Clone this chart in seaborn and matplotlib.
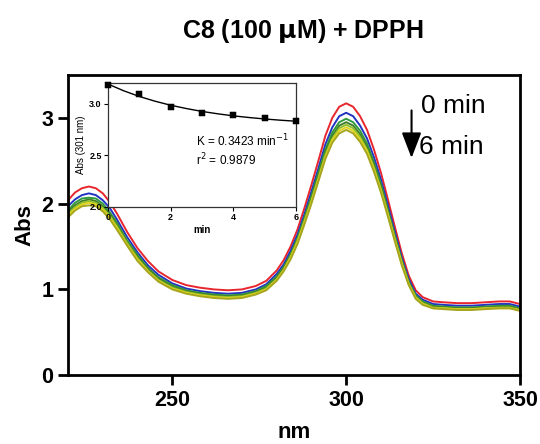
import numpy as np
import pandas as pd
import seaborn as sns
import matplotlib.pyplot as plt

# wavelength grid (nm) and spectra, 0 -> 6 min
wavelength = [220, 222, 224, 226, 228, 230, 232, 234, 237, 240, 243, 246, 250, 254, 258,
              262, 266, 270, 274, 277, 280, 282, 284, 286, 288, 290, 292, 294, 296, 298,
              300, 302, 304, 306, 308, 310, 312, 314, 316, 318, 320, 322, 325, 328, 332,
              336, 340, 344, 347, 350]

abs_0min = [2.04, 2.13, 2.18, 2.20, 2.18, 2.12, 2.02, 1.89, 1.67, 1.48, 1.33, 1.21, 1.11, 1.05, 1.02,
            1.00, 0.99, 1.00, 1.04, 1.10, 1.22, 1.34, 1.50, 1.70, 1.95, 2.22, 2.50, 2.79, 3.00, 3.13,
            3.17, 3.13, 3.02, 2.86, 2.63, 2.36, 2.05, 1.73, 1.42, 1.16, 0.99, 0.91, 0.86, 0.85, 0.84,
            0.84, 0.85, 0.86, 0.86, 0.83]
abs_1min = [1.97, 2.05, 2.10, 2.12, 2.10, 2.04, 1.95, 1.82, 1.61, 1.43, 1.28, 1.17, 1.07, 1.01, 0.98,
            0.96, 0.95, 0.96, 1.00, 1.06, 1.18, 1.29, 1.45, 1.64, 1.88, 2.14, 2.41, 2.69, 2.89, 3.02,
            3.06, 3.02, 2.91, 2.76, 2.54, 2.28, 1.98, 1.67, 1.37, 1.12, 0.95, 0.88, 0.83, 0.82, 0.81,
            0.81, 0.82, 0.83, 0.83, 0.80]
abs_2min = [1.92, 2.01, 2.06, 2.07, 2.06, 2.00, 1.90, 1.78, 1.57, 1.40, 1.25, 1.14, 1.05, 0.99, 0.96,
            0.94, 0.93, 0.94, 0.98, 1.04, 1.15, 1.26, 1.41, 1.60, 1.84, 2.09, 2.36, 2.63, 2.83, 2.95,
            2.99, 2.95, 2.85, 2.70, 2.48, 2.23, 1.93, 1.63, 1.34, 1.09, 0.93, 0.86, 0.81, 0.80, 0.79,
            0.79, 0.80, 0.81, 0.81, 0.78]
abs_3min = [1.90, 1.98, 2.03, 2.05, 2.03, 1.97, 1.88, 1.76, 1.55, 1.38, 1.24, 1.13, 1.03, 0.98, 0.95,
            0.93, 0.92, 0.93, 0.97, 1.02, 1.14, 1.25, 1.40, 1.58, 1.82, 2.07, 2.33, 2.60, 2.79, 2.91,
            2.95, 2.91, 2.81, 2.66, 2.45, 2.20, 1.91, 1.61, 1.32, 1.08, 0.92, 0.85, 0.80, 0.79, 0.78,
            0.78, 0.79, 0.80, 0.80, 0.77]
abs_4min = [1.88, 1.96, 2.01, 2.03, 2.01, 1.95, 1.86, 1.74, 1.54, 1.36, 1.22, 1.11, 1.02, 0.97, 0.94,
            0.92, 0.91, 0.92, 0.96, 1.01, 1.12, 1.23, 1.38, 1.57, 1.80, 2.04, 2.30, 2.57, 2.76, 2.88,
            2.92, 2.88, 2.78, 2.63, 2.42, 2.17, 1.89, 1.59, 1.31, 1.07, 0.91, 0.84, 0.79, 0.78, 0.77,
            0.77, 0.78, 0.79, 0.79, 0.76]
abs_5min = [1.86, 1.94, 1.99, 2.01, 1.99, 1.93, 1.84, 1.72, 1.52, 1.35, 1.21, 1.10, 1.01, 0.96, 0.93,
            0.91, 0.90, 0.91, 0.95, 1.00, 1.11, 1.22, 1.37, 1.55, 1.78, 2.02, 2.28, 2.54, 2.74, 2.85,
            2.89, 2.85, 2.75, 2.61, 2.40, 2.15, 1.87, 1.58, 1.30, 1.06, 0.90, 0.83, 0.78, 0.78, 0.77,
            0.77, 0.78, 0.78, 0.78, 0.76]
abs_6min = [1.84, 1.92, 1.97, 1.98, 1.97, 1.91, 1.82, 1.70, 1.51, 1.33, 1.20, 1.09, 1.00, 0.95, 0.92,
            0.90, 0.89, 0.90, 0.94, 0.99, 1.10, 1.21, 1.35, 1.53, 1.76, 2.00, 2.26, 2.52, 2.71, 2.82,
            2.86, 2.82, 2.72, 2.58, 2.37, 2.13, 1.85, 1.56, 1.28, 1.05, 0.89, 0.82, 0.78, 0.77, 0.76,
            0.76, 0.77, 0.78, 0.78, 0.75]

spectra = [abs_0min, abs_1min, abs_2min, abs_3min, abs_4min, abs_5min, abs_6min]
time_labels = ['0 min', '1 min', '2 min', '3 min', '4 min', '5 min', '6 min']
line_colors = ['#e8262d', '#2233c4', '#2f9a3c', '#3f7d2a', '#8fbf2c', '#e2d41c', '#a5a51e']

# inset: absorbance at 301 nm vs time
inset_time = [0, 1, 2, 3, 4, 5, 6]
inset_abs = [3.18, 3.09, 2.97, 2.91, 2.89, 2.86, 2.83]
fit_time = [0, 0.5, 1, 1.5, 2, 2.5, 3, 3.5, 4, 4.5, 5, 5.5, 6]
fit_abs = [3.19, 3.125, 3.07, 3.024, 2.985, 2.953, 2.925, 2.902, 2.882, 2.866, 2.852, 2.84, 2.83]

sns.set_theme(style="ticks")
plt.rcParams['font.family'] = ['Liberation Sans', 'DejaVu Sans']
plt.rcParams['text.color'] = 'black'
plt.rcParams['axes.labelcolor'] = 'black'
plt.rcParams['xtick.color'] = 'black'
plt.rcParams['ytick.color'] = 'black'

df = pd.DataFrame({
    'nm': wavelength * len(spectra),
    'Abs': [v for s in spectra for v in s],
    'time': [t for t in time_labels for _ in wavelength],
})

fig = plt.figure(figsize=(5.4, 4.44), dpi=100)
ax = fig.add_axes([0.126, 0.155, 0.837, 0.676])
sns.lineplot(data=df, x='nm', y='Abs', hue='time', palette=line_colors,
             linewidth=1.4, legend=False, ax=ax, sort=False)

ax.set_xlim(220, 350)
ax.set_ylim(0, 3.5)
ax.set_xticks([250, 300, 350])
ax.set_yticks([0, 1, 2, 3])
for sp in ax.spines.values():
    sp.set_linewidth(2)
    sp.set_color('black')
ax.tick_params(width=2, length=7, labelsize=15.5)
for lab in ax.get_xticklabels() + ax.get_yticklabels():
    lab.set_fontweight('bold')
ax.set_xlabel('nm', fontsize=16, fontweight='bold', labelpad=8)
ax.set_ylabel('Abs', fontsize=16, fontweight='bold', labelpad=4)
fig.suptitle('C8 (100 $\\mathbf{\\mu}$M) + DPPH', x=0.56, y=0.962, fontsize=18, fontweight='bold')

# time arrow
ax.annotate('', xy=(318.8, 2.5), xytext=(318.8, 3.12),
            arrowprops=dict(arrowstyle='-|>,head_length=1.3,head_width=0.5',
                            color='black', lw=1.5))
ax.text(321.5, 3.14, '0 min', fontsize=19, va='center', ha='left')
ax.text(321.0, 2.66, '6 min', fontsize=19, va='center', ha='left')

# inset
ins = fig.add_axes([0.2, 0.534, 0.348, 0.279])
ins.set_facecolor('white')
sns.lineplot(x=fit_time, y=fit_abs, color='black', linewidth=1, ax=ins)
sns.scatterplot(x=inset_time, y=inset_abs, marker='s', s=20, color='black',
                edgecolor='black', ax=ins, clip_on=False, zorder=5)
ins.set_xlim(0, 6)
ins.set_ylim(2.0, 3.2)
ins.set_xticks([0, 2, 4, 6])
ins.set_yticks([2.0, 2.5, 3.0])
ins.set_yticklabels(['2.0', '2.5', '3.0'])
for sp in ins.spines.values():
    sp.set_linewidth(0.9)
    sp.set_color('#333333')
ins.tick_params(width=0.8, length=3, labelsize=6.5, pad=1.5)
for lab in ins.get_xticklabels() + ins.get_yticklabels():
    lab.set_fontweight('bold')
ins.set_xlabel('min', fontsize=7, fontweight='bold', labelpad=2)
ins.set_ylabel('Abs (301 nm)', fontsize=7, labelpad=2)
ins.text(2.8, 2.64, 'K = 0.3423 min$^{-1}$', fontsize=8.5, va='center')
ins.text(2.8, 2.45, 'r$^2$ = 0.9879', fontsize=8.5, va='center')

fig.savefig('out.png', dpi=100)
